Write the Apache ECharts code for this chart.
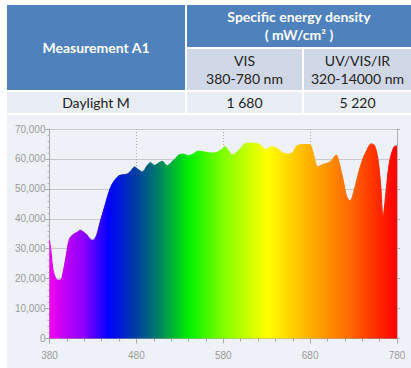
<!DOCTYPE html>
<html><head><meta charset="utf-8">
<script src="https://cdn.jsdelivr.net/npm/echarts@6/dist/echarts.min.js"></script>
<style>
html,body{margin:0;padding:0;background:#fff;width:411px;height:368px;overflow:hidden;}
.c{position:absolute;display:flex;align-items:center;justify-content:center;text-align:center;font-family:Lato,"Open Sans",sans-serif;font-size:14px;line-height:18px;}
.h{background:#4f81bd;color:#fff;font-weight:bold;}
.s{background:#d0d8e8;color:#222;}
.d{background:#e9edf4;color:#222;}
#chart{position:absolute;left:7px;top:115px;width:404px;height:253px;background:#eef2f8;}
</style></head><body>
<div id="table"></div>
<div id="chart"></div>
<script>
// ---- table texts ----
const rowHeader = "Measurement A1";
const groupHeader = ["Specific energy density", "( mW/cm² )"];
const columnHeaders = [["VIS", "380-780 nm"], ["UV/VIS/IR", "320-14000 nm"]];
const rowLabel = "Daylight M";
const rowValues = ["1 680", "5 220"];

// ---- spectrum data ----
const wavelengths = [380,382,384,387,390,393,395,399,403,408,412,415,418,423,427,430,434,438,444,450,455,460,464,468,473,478,482,487,492,496,501,506,510,515,519,525,530,534,540,545,551,557,565,572,578,582,586,591,596,600,606,613,619,623,629,636,642,648,655,660,664,668,675,680,683,689,695,702,706,710,714,718,722,726,730,735,740,745,750,754,758,761,764,767,771,775,778,780];
const intensity = [32900,28500,23000,20200,19500,19600,21200,27300,33300,34900,35500,36200,35800,34600,33200,32800,34400,38600,44600,50300,52900,54400,54700,54800,55800,57300,56500,55700,57600,58700,57900,58700,59200,57800,58500,60200,61500,61600,61100,61600,62600,62400,62000,62100,63200,64100,62800,61300,62400,63600,65200,65300,65100,64600,63200,64100,63500,62100,61600,62200,64200,64700,64800,64700,62500,57400,58200,58800,60000,61300,58000,53000,47500,46000,48800,54500,59500,62800,65000,64600,60000,52000,41000,48000,58500,63000,64300,64300];
const xTicks = [380,480,580,680,780];
const yTicks = [0,10000,20000,30000,40000,50000,60000,70000];

// build table
const t = document.getElementById('table');
function cell(cls, x, y, w, h, html){
  const d = document.createElement('div');
  d.className = 'c ' + cls;
  d.style.left = x+'px'; d.style.top = y+'px'; d.style.width = w+'px'; d.style.height = h+'px';
  d.innerHTML = html; t.appendChild(d);
}
cell('h', 7, 5, 178, 85, rowHeader);
cell('h', 187, 5, 224, 42, groupHeader.join('<br>'));
cell('s', 187, 49, 115, 41, columnHeaders[0].join('<br>'));
cell('s', 304, 49, 107, 41, columnHeaders[1].join('<br>'));
cell('d', 7, 92, 178, 21, rowLabel);
cell('d', 187, 92, 115, 21, rowValues[0]);
cell('d', 304, 92, 107, 21, rowValues[1]);

const chart = echarts.init(document.getElementById('chart'), null, {renderer:'svg'});
const spectrum = new echarts.graphic.LinearGradient(0,0,1,0,[
  {offset:0, color:'#f000f0'},
  {offset:0.1, color:'#8a00ff'},
  {offset:0.17, color:'#0000ff'},
  {offset:0.25, color:'#0040a0'},
  {offset:0.31, color:'#007a6a'},
  {offset:0.4, color:'#00f000'},
  {offset:0.5, color:'#80ff00'},
  {offset:0.625, color:'#ffff00'},
  {offset:0.75, color:'#ffb000'},
  {offset:0.86, color:'#ff6a00'},
  {offset:1, color:'#ff0000'}
]);
const labelFont = {color:'#9a9a9a', fontSize:10, fontFamily:'"Liberation Sans Narrow","Liberation Sans",sans-serif'};
chart.setOption({
  animation:false,
  grid:{left:42.5, right:14, top:14, bottom:29.5},
  xAxis:{type:'value', min:xTicks[0], max:xTicks[xTicks.length-1], interval:100, offset:6,
    axisLine:{show:true, lineStyle:{color:'#a8a8a8'}},
    axisTick:{show:true, length:5, lineStyle:{color:'#a8a8a8'}},
    minorTick:{show:true, splitNumber:5, length:3, lineStyle:{color:'#a8a8a8'}},
    axisLabel:Object.assign({margin:6}, labelFont),
    splitLine:{show:true, lineStyle:{color:'#b0b0b0', type:[1,2]}}},
  yAxis:[{type:'value', min:yTicks[0], max:yTicks[yTicks.length-1], interval:10000,
    axisLine:{show:true, lineStyle:{color:'#a8a8a8'}},
    axisTick:{show:true, length:4, lineStyle:{color:'#a8a8a8'}},
    minorTick:{show:true, splitNumber:5, length:2, lineStyle:{color:'#b8b8b8'}},
    axisLabel:Object.assign({margin:4, formatter:v=>v.toLocaleString('en-US')}, labelFont),
    splitLine:{show:true, lineStyle:{color:'#c8c8c8'}}},
   {type:'value', position:'right', min:yTicks[0], max:yTicks[yTicks.length-1], interval:10000,
    axisLine:{show:true, lineStyle:{color:'#b0b0b0'}},
    axisTick:{show:true, length:3, lineStyle:{color:'#b0b0b0'}},
    axisLabel:{show:false}, splitLine:{show:false}}],
  series:[{type:'line', smooth:0.35, symbol:'none',
    data:wavelengths.map((w,i)=>[w,intensity[i]]),
    lineStyle:{width:1, color:spectrum},
    areaStyle:{color:spectrum, opacity:1}}]
});
</script>
</body></html>
